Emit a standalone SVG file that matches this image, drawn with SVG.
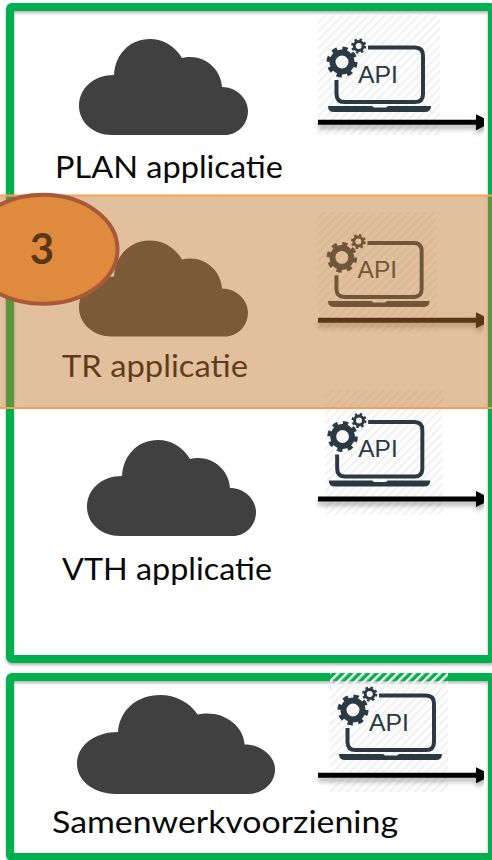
<svg xmlns="http://www.w3.org/2000/svg" xmlns:xlink="http://www.w3.org/1999/xlink" width="492" height="860" viewBox="0 0 492 860">
<style>
.frame{fill:none;stroke:#00B050;stroke-width:8;stroke-linejoin:round;filter:url(#sh)}
.label{font-family:Lato,"Open Sans",Arial,sans-serif;font-size:31px;fill:#0a0a0a}
.cloud{fill:#404040}
.hatch{fill:url(#ht)}
.ico{fill:none;stroke:#2b3a42}
.api{font-family:"Liberation Sans",Arial,sans-serif;font-size:24px;fill:#2b3a42}
.conn{stroke:#000;stroke-width:5;fill:none;marker-end:url(#ah)}
</style>
<defs>
<filter id="sh" x="-5%" y="-5%" width="110%" height="110%"><feDropShadow dx="0" dy="2" stdDeviation="1.5" flood-color="#000" flood-opacity=".3"/></filter>
<filter id="ash" x="-5%" y="-200%" width="110%" height="600%"><feDropShadow dx="0" dy="4" stdDeviation="2.5" flood-color="#000" flood-opacity=".3"/></filter>
<pattern id="ht" width="6" height="6" patternUnits="userSpaceOnUse" patternTransform="rotate(45)"><rect width="2.5" height="6" fill="#f2f2f2"/></pattern>
<marker id="ah" markerUnits="userSpaceOnUse" markerWidth="16" markerHeight="16" refX="0" refY="8" orient="auto"><path d="M0 0L16 8L0 16Z" fill="#000"/></marker>
<path id="cl" d="M112 135C93 135 79 122 79 106C79 88 94 75 114 75C115 54 130 39 150 39C163 39 175 46 182 58C185 57 188 57 190 57C207 57 221 70 222 87C237 87 248 99 248 111C248 125 237 135 225 135Z"/>
<g id="icon">
<circle class="ico" cx="342" cy="62" r="9.5" stroke-width="6"/>
<circle class="ico" cx="342" cy="62" r="13.5" stroke-width="4" stroke-dasharray="5.3 5.3"/>
<circle class="ico" cx="358.7" cy="46" r="4.5" stroke-width="3"/>
<circle class="ico" cx="358.7" cy="46" r="6.5" stroke-width="2.2" stroke-dasharray="2.55 2.55"/>
<path class="ico" stroke-width="4" d="M368 47.5H415Q423 47.5 423 55.5V94Q423 102 415 102H344.500Q336.500 102 336.500 94V80"/>
<path d="M328 106H372L374 107.500H386L388 106H431Q431 112 425 112H334Q328 112 328 106Z" fill="#2b3a42"/>
<text class="api" x="358" y="83" textLength="40" lengthAdjust="spacingAndGlyphs">API</text>
</g>
</defs>
<rect width="492" height="860" fill="#fff"/>
<g id="frames">
<rect class="frame" x="10" y="7" width="482" height="652" rx="2"/>
<rect class="frame" x="10" y="677" width="482" height="180" rx="2"/>
</g>
<g id="node-plan">
<use href="#cl" class="cloud"/>
<rect class="hatch" x="318" y="15" width="122" height="120"/>
<use href="#icon"/>
<text class="label" x="55" y="178" textLength="228" lengthAdjust="spacingAndGlyphs">PLAN applicatie</text>
</g>
<g id="node-tr">
<use href="#cl" class="cloud" transform="translate(0 201.500)"/>
<rect class="hatch" x="318" y="212" width="119" height="120"/>
<use href="#icon" transform="translate(5 196) scale(.985 .99)"/>
<text class="label" x="62" y="377" textLength="186" lengthAdjust="spacingAndGlyphs">TR applicatie</text>
</g>
<g id="node-vth">
<use href="#cl" class="cloud" transform="translate(8 401)"/>
<rect class="hatch" x="325" y="390" width="118" height="125"/>
<use href="#icon" transform="translate(5.700 374.500) scale(.985 1)"/>
<text class="label" x="62" y="580" textLength="210" lengthAdjust="spacingAndGlyphs">VTH applicatie</text>
</g>
<g id="node-samen">
<use href="#cl" class="cloud" transform="translate(77 695) scale(1.172 1.031) translate(-79 -39)"/>
<rect class="hatch" x="330" y="672" width="118" height="120"/>
<use href="#icon" transform="translate(11 648)"/>
<text class="label" x="52" y="833" textLength="346" lengthAdjust="spacingAndGlyphs">Samenwerkvoorziening</text>
</g>
<g id="connectors" filter="url(#ash)">
<path class="conn" d="M318 122.300H476"/>
<path class="conn" d="M318 320.300H476"/>
<path class="conn" d="M318 499H476"/>
<path class="conn" d="M318 775.300H476"/>
</g>
<g id="band">
<rect x="-2" y="195.500" width="496" height="212.500" fill="#C1782F" fill-opacity=".465" stroke="#F4A05A" stroke-width="2"/>
</g>
<g id="badge">
<ellipse cx="43" cy="249.300" rx="74.500" ry="54.500" fill="#E08A3E" stroke="#A85A38" stroke-width="4"/>
<text x="42" y="264" text-anchor="middle" font-family="Lato,'Open Sans',Arial,sans-serif" font-weight="700" font-size="42" fill="#5a3816">3</text>
</g>
</svg>
